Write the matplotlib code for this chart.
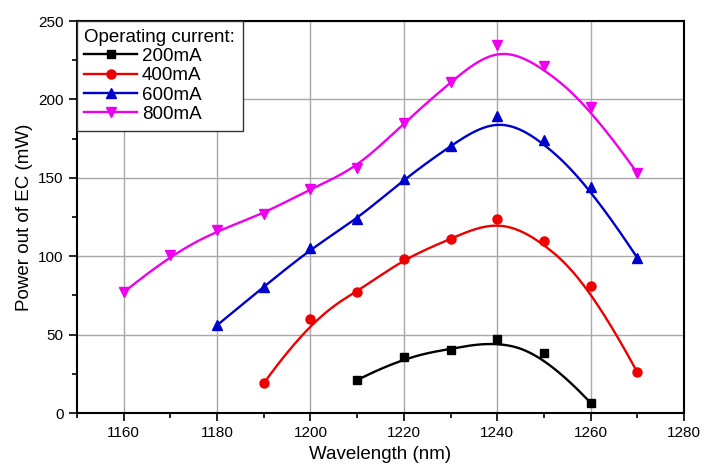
import numpy as np
import matplotlib
matplotlib.use("Agg")
import matplotlib.pyplot as plt
from matplotlib.ticker import MultipleLocator

plt.rcParams['font.family'] = ['Liberation Sans', 'DejaVu Sans']

wl_200 = [1210, 1220, 1230, 1240, 1250, 1260]
p_200 = [21, 36, 40.5, 47, 38, 6.5]
wl_400 = [1190, 1200, 1210, 1220, 1230, 1240, 1250, 1260, 1270]
p_400 = [19, 60, 77, 98.5, 111, 124, 110, 81, 26]
wl_600 = [1180, 1190, 1200, 1210, 1220, 1230, 1240, 1250, 1260, 1270]
p_600 = [56, 80.5, 105, 123.5, 149, 170.5, 189.5, 174, 144, 99]
wl_800 = [1160, 1170, 1180, 1190, 1200, 1210, 1220, 1230, 1240, 1250, 1260, 1270]
p_800 = [77, 101, 116.5, 127, 143, 156, 185, 211, 235, 221, 195, 153]

labels = ['200mA', '400mA', '600mA', '800mA']
colors = ['#000000', '#ee0000', '#0000cc', '#ee00ee']
markers = ['s', 'o', '^', 'v']
msizes = [6, 6.5, 7, 7]


def bspline(x, y, n=300, k=3):
    """Clamped uniform cubic B-spline with data points as control points."""
    P = np.column_stack([x, y]).astype(float)
    m = len(P)
    kk = min(k, m - 1)
    inner = np.linspace(0, 1, m - kk + 1)
    t = np.concatenate([np.zeros(kk), inner, np.ones(kk)])
    u = np.linspace(0, 1, n)
    u[-1] = 1 - 1e-12

    def N(i, p, u):
        if p == 0:
            return ((t[i] <= u) & (u < t[i + 1])).astype(float)
        a = np.zeros_like(u)
        b = np.zeros_like(u)
        d1 = t[i + p] - t[i]
        d2 = t[i + p + 1] - t[i + 1]
        if d1 > 0:
            a = (u - t[i]) / d1 * N(i, p - 1, u)
        if d2 > 0:
            b = (t[i + p + 1] - u) / d2 * N(i + 1, p - 1, u)
        return a + b

    C = np.zeros((n, 2))
    for i in range(m):
        C += N(i, kk, u)[:, None] * P[i]
    return C[:, 0], C[:, 1]


fig = plt.figure(figsize=(7.09, 4.71), dpi=100)
ax = fig.add_axes([0.1086, 0.1231, 0.8561, 0.8323])

series = [(wl_200, p_200), (wl_400, p_400), (wl_600, p_600), (wl_800, p_800)]
for (x, y), lab, c, mk, ms in zip(series, labels, colors, markers, msizes):
    cx, cy = bspline(x, y)
    ax.plot(cx, cy, color=c, lw=1.7, zorder=3)
    ax.plot(x, y, linestyle='none', marker=mk, color=c, ms=ms, zorder=4)
    ax.plot([], [], color=c, lw=1.7, marker=mk, ms=ms, label=lab)

ax.set_xlim(1150, 1280)
ax.set_ylim(0, 250)
ax.xaxis.set_major_locator(MultipleLocator(20))
ax.xaxis.set_minor_locator(MultipleLocator(10))
ax.yaxis.set_major_locator(MultipleLocator(50))
ax.yaxis.set_minor_locator(MultipleLocator(25))
ax.grid(True, which='major', color='#a8a8a8', lw=1)
ax.set_axisbelow(True)
ax.tick_params(which='both', direction='out', top=False, right=False, labelsize=11, width=1.2)
ax.tick_params(which='major', length=6)
ax.tick_params(which='minor', length=3.5)
for s in ax.spines.values():
    s.set_linewidth(1.5)

ax.set_xlabel('Wavelength (nm)', fontsize=13.5)
ax.set_ylabel('Power out of EC (mW)', fontsize=13.5)

leg = ax.legend(loc='upper left', bbox_to_anchor=(0, 1), borderaxespad=0,
                title='Operating current:', fontsize=13.5, title_fontsize=13.5,
                fancybox=False, edgecolor='#333333', framealpha=1,
                handlelength=2.8, labelspacing=0.12, handletextpad=0.25,
                borderpad=0.4)
leg._legend_box.align = 'left'
leg.get_frame().set_linewidth(1)

fig.savefig('out.png', dpi=100)
